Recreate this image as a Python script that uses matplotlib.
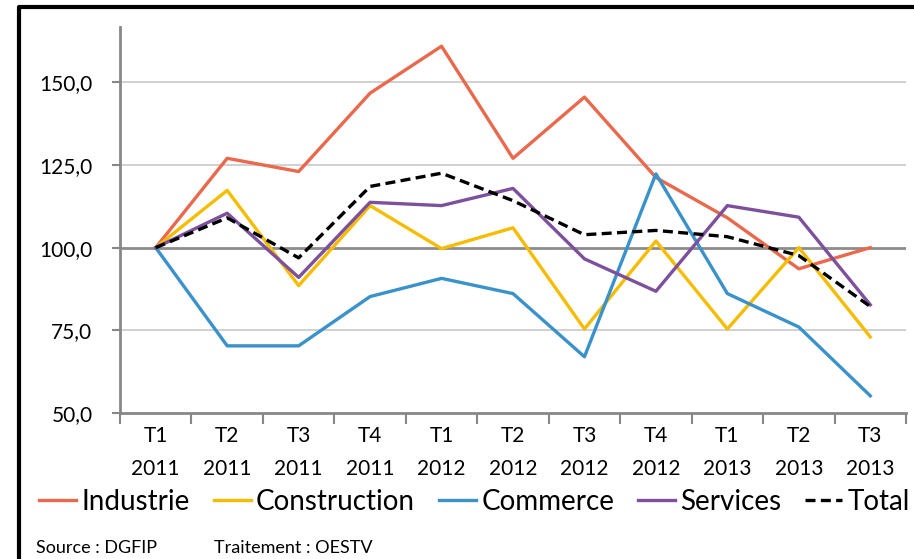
import matplotlib
matplotlib.use("Agg")
import matplotlib.pyplot as plt
from matplotlib.lines import Line2D

plt.rcParams["font.family"] = ["Lato", "DejaVu Sans"]

quarters = ["T1", "T2", "T3", "T4", "T1", "T2", "T3", "T4", "T1", "T2", "T3"]
years = ["2011", "2011", "2011", "2011", "2012", "2012", "2012", "2012",
         "2013", "2013", "2013"]

industrie = [100, 127.0, 123.0, 146.7, 160.9, 127.0, 145.5, 121.2, 109.0, 93.6, 100.0]
construction = [100, 117.3, 88.5, 112.7, 99.7, 106.0, 75.4, 102.0, 75.4, 100.0, 73.0]
commerce = [100, 70.3, 70.3, 85.2, 90.7, 86.1, 67.0, 122.3, 86.1, 76.0, 55.2]
services = [100, 110.4, 91.0, 113.7, 112.7, 117.9, 96.6, 86.8, 112.7, 109.2, 82.7]
total = [100, 109.0, 96.9, 118.5, 122.5, 114.2, 103.9, 105.2, 103.3, 97.6, 82.2]

yticks = [50, 75, 100, 125, 150]

W, H = 914, 559
fig = plt.figure(figsize=(W / 100, H / 100), dpi=100)
ax = fig.add_axes([120 / W, 1 - 413 / H, 786 / W, 386 / H])

x = list(range(len(quarters)))
lw = 2.4
ax.plot(x, industrie, color="#EA684B", lw=lw, label="Industrie", zorder=3)
ax.plot(x, construction, color="#F6BD00", lw=lw, label="Construction", zorder=3)
ax.plot(x, commerce, color="#3A92CA", lw=lw, label="Commerce", zorder=3)
ax.plot(x, services, color="#7D509E", lw=lw, label="Services", zorder=3)
ax.plot(x, total, color="black", lw=lw, ls=(0, (3, 1.6)), label="Total", zorder=4)

ax.set_xlim(-0.5, len(quarters) - 0.5)
ax.set_ylim(50, 166.7)

# gridlines
for v in yticks[1:]:
    if v == 100:
        ax.axhline(v, color="#8C8C8C", lw=2.0, zorder=1)
    else:
        ax.axhline(v, color="#C8C8C8", lw=1.2, zorder=1)

ax.set_yticks(yticks)
ax.set_yticklabels([f"{v},0" for v in yticks], fontsize=15)
ax.tick_params(axis="y", direction="out", length=5.8, width=1.5, color="#878787", pad=14)

ax.set_xticks([i - 0.5 for i in range(len(quarters) + 1)])
ax.set_xticklabels([])
ax.set_xticks(x, minor=True)
ax.set_xticklabels([f"{q}\n{y}" for q, y in zip(quarters, years)], minor=True,
                   fontsize=15, linespacing=1.85)
ax.tick_params(axis="x", which="major", direction="out", length=8, width=1.5,
               color="#878787")
ax.tick_params(axis="x", which="minor", length=0, pad=9)

for side in ("top", "right"):
    ax.spines[side].set_visible(False)
for side in ("left", "bottom"):
    ax.spines[side].set_color("#878787")
    ax.spines[side].set_linewidth(2)

fig.legend(loc="center left", bbox_to_anchor=(28 / W, 1 - 502 / H), ncol=5,
           frameon=False, fontsize=20, handlelength=1.33, handletextpad=0.2,
           columnspacing=0.85, borderaxespad=0)

fig.text(36 / W, 1 - 548 / H, "Source : DGFIP", fontsize=13, va="center")
fig.text(214 / W, 1 - 548 / H, "Traitement : OESTV", fontsize=13, va="center")

# outer frame (cropped on the right and bottom)
fig.add_artist(Line2D([19 / W, 19 / W, 1.0], [0.0, 1 - 7 / H, 1 - 7 / H],
                      transform=fig.transFigure, color="black", lw=3))

fig.savefig("out.png", dpi=100)
